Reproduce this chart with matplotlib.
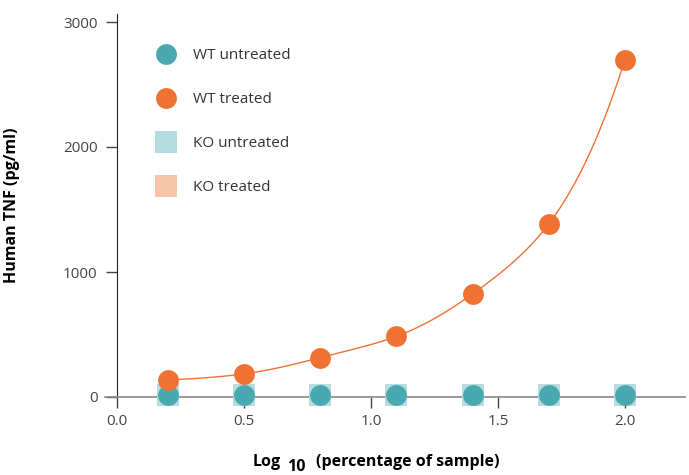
import matplotlib
matplotlib.use("Agg")
import matplotlib.pyplot as plt
from matplotlib.lines import Line2D
import numpy as np

plt.rcParams['font.family'] = ['Open Sans', 'DejaVu Sans']

# data
log_pct = [0.2, 0.5, 0.8, 1.1, 1.4, 1.7, 2.0]
wt_treated = [135, 185, 315, 485, 825, 1385, 2700]
wt_untreated = [15, 15, 15, 15, 15, 15, 15]
ko_untreated = [15, 15, 15, 15, 15, 15, 15]
ko_treated = [15, 15, 15, 15, 15, 15, 15]
yticks = [0, 1000, 2000, 3000]
xticks = [0.0, 0.5, 1.0, 1.5, 2.0]

TEAL = "#4aa9b0"
ORANGE = "#f07232"
TEAL_LT = "#b5dde0"
ORANGE_LT = "#f7c5aa"


def natural_spline(x, y, n=200):
    # smooth line through the points (drawing only)
    x = np.asarray(x, float); y = np.asarray(y, float)
    k = len(x)
    h = np.diff(x)
    A = np.zeros((k, k)); b = np.zeros(k)
    A[0, 0] = A[-1, -1] = 1
    for i in range(1, k-1):
        A[i, i-1] = h[i-1]; A[i, i] = 2*(h[i-1]+h[i]); A[i, i+1] = h[i]
        b[i] = 6*((y[i+1]-y[i])/h[i] - (y[i]-y[i-1])/h[i-1])
    M = np.linalg.solve(A, b)
    xs = np.linspace(x[0], x[-1], n)
    idx = np.clip(np.searchsorted(x, xs) - 1, 0, k-2)
    x0, x1, hh = x[idx], x[idx+1], h[idx]
    ys = (M[idx]*(x1-xs)**3/(6*hh) + M[idx+1]*(xs-x0)**3/(6*hh)
          + (y[idx]/hh - M[idx]*hh/6)*(x1-xs) + (y[idx+1]/hh - M[idx+1]*hh/6)*(xs-x0))
    return xs, ys


fig = plt.figure(figsize=(6.89, 4.75), dpi=100)
ax = fig.add_axes([105/689, 78/475, 580/689, 383/475])
ax.set_xlim(-0.047, 2.236)
ax.set_ylim(0, 3064)

for s in ("top", "right"):
    ax.spines[s].set_visible(False)
ax.spines["left"].set_position(("data", 0))
ax.spines["left"].set_color("#222222")
ax.spines["bottom"].set_color("#888888")
ax.spines["bottom"].set_linewidth(1.2)

# spline in log space keeps the curve concave up like the reference
cx, cly = natural_spline(log_pct, np.log(wt_treated))
ax.plot(cx, np.exp(cly), color=ORANGE, lw=1.0, zorder=2)

ax.scatter(log_pct, ko_treated, marker="s", s=16**2, color=ORANGE_LT, lw=0, zorder=3, clip_on=False)
ax.scatter(log_pct, ko_untreated, marker="s", s=16**2, color=TEAL_LT, lw=0, zorder=4, clip_on=False)
ax.scatter(log_pct, wt_untreated, marker="o", s=15**2, color=TEAL, lw=0, zorder=5, clip_on=False)
ax.scatter(log_pct, wt_treated, marker="o", s=15**2, color=ORANGE, lw=0, zorder=6, clip_on=False)

ax.set_xticks(xticks)
ax.set_xticklabels([f"{v:.1f}" for v in xticks])
ax.set_yticks(yticks)
ax.tick_params(axis="both", length=8, width=1, color="#444444", labelcolor="#444444",
               labelsize=11)
ax.tick_params(axis="y", pad=6)
ax.tick_params(axis="x", pad=4)

ax.set_ylabel("Human TNF (pg/ml)", fontsize=11.5, fontweight="bold")
ax.yaxis.set_label_coords(-0.147, 0.5)

# x label with full-size, lowered subscript
fig.text(253/689, 13/475, "Log", ha="left", va="center", fontsize=11.5, fontweight="bold")
fig.text(287/689, 8/475, "10", ha="left", va="center", fontsize=11.5, fontweight="bold")
fig.text(316/689, 13/475, "(percentage of sample)", ha="left", va="center",
         fontsize=11.5, fontweight="bold")

handles = [
    Line2D([], [], ls="none", marker="o", ms=15, color=TEAL, mew=0),
    Line2D([], [], ls="none", marker="o", ms=15, color=ORANGE, mew=0),
    Line2D([], [], ls="none", marker="s", ms=16, color=TEAL_LT, mew=0),
    Line2D([], [], ls="none", marker="s", ms=16, color=ORANGE_LT, mew=0),
]
labels = ["WT untreated", "WT treated", "KO untreated", "KO treated"]
ax.legend(handles, labels, loc="upper left", bbox_to_anchor=(0.055, 0.947), frameon=False,
          fontsize=11, labelspacing=1.9, handletextpad=0.8, labelcolor="#333333")

plt.savefig("out.png", dpi=100)
